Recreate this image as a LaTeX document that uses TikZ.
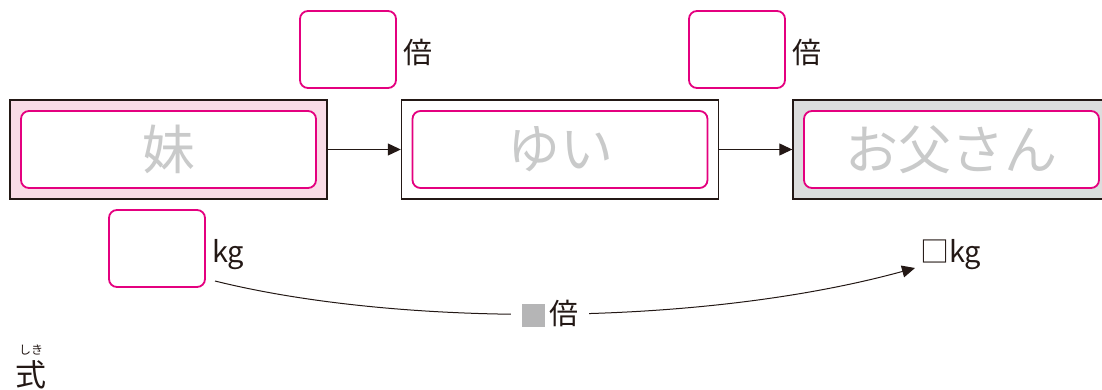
\documentclass[tikz,border=0pt]{standalone}
\usepackage{fontspec}
\setmainfont{Noto Sans CJK JP}
\usetikzlibrary{arrows.meta}
\definecolor{mag}{HTML}{E4007F}
\definecolor{pinkbg}{HTML}{F9DCE6}
\definecolor{graybg}{HTML}{DCDDDD}
\definecolor{ghost}{HTML}{C9CACA}
\definecolor{ink}{HTML}{231815}
\definecolor{sqgray}{HTML}{B5B5B6}
\tikzset{
  outer/.style={draw=ink, line width=1.4pt, minimum width=317pt, minimum height=99pt, inner sep=0pt},
  inner/.style={draw=mag, fill=white, line width=1.8pt, rounded corners=8pt, minimum width=295pt, minimum height=77pt, inner sep=0pt, text=ghost, font=\fontsize{53}{53}\selectfont},
  blank/.style={draw=mag, line width=1.8pt, rounded corners=8pt, minimum width=96pt, minimum height=77pt, inner sep=0pt},
  lbl/.style={text=ink, font=\fontsize{29}{29}\selectfont, inner sep=0pt},
  arr/.style={draw=ink, line width=1.2pt, -{Triangle[length=13pt,width=12pt]}}
}
\begin{document}
\begin{tikzpicture}[x=1pt,y=-1pt]
\useasboundingbox (0,0) rectangle (1102,390);
\clip (0,0) rectangle (1102,390);
% the three people
\node[outer, fill=pinkbg] (sisbox) at (168.5,149.5) {};
\node[inner] (sis) at (168.5,149.5) {妹};
\node[outer, fill=white] (yuibox) at (560,149.5) {};
\node[inner] (yui) at (560,149.5) {ゆい};
\node[outer, fill=graybg] (dadbox) at (951.5,149.5) {};
\node[inner] (dad) at (951.5,149.5) {お父さん};
\draw[arr] (sisbox) -- (yuibox);
\draw[arr] (yuibox) -- (dadbox);
% the blanks above
\node[blank] (b1) at (348,49.5) {};
\node[lbl, anchor=west] (t1) at (403,52) {倍};
\node[blank] (b2) at (737,49.5) {};
\node[lbl, anchor=west] (t2) at (792,52) {倍};
% kg row
\node[blank] (b3) at (157,248.5) {};
\node[lbl, anchor=west] (kg1) at (212,255) {kg};
\node[lbl, anchor=west] (kg2) at (920,255) {□kg};
\coordinate (c1) at (215,281);
\coordinate (c2) at (915,268);
\draw[arr, line width=1pt] (c1) .. controls (400,327) and (700,327) .. (c2)
  node[pos=0.495, fill=white, inner xsep=11pt, inner ysep=4pt, text=ink, font=\fontsize{29}{29}\selectfont] (times) {\textcolor{sqgray}{\rule[-2pt]{23pt}{23pt}}\,倍};
% shiki
\node[lbl, font=\fontsize{12}{12}\selectfont] (ruby) at (31,350) {しき};
\node[lbl, font=\fontsize{31}{31}\selectfont] (shiki) at (31,375) {式};
\end{tikzpicture}
\end{document}
